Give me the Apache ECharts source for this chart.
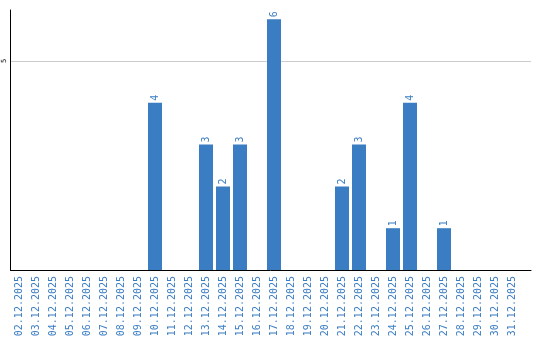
<!DOCTYPE html>
<html>
<head>
<meta charset="utf-8">
<script src="https://cdn.jsdelivr.net/npm/echarts@6/dist/echarts.min.js"></script>
<style>html,body{margin:0;padding:0;background:#fff}#c{width:540px;height:340px}</style>
</head>
<body>
<div id="c"></div>
<script>
const categories = ['02.12.2025','03.12.2025','04.12.2025','05.12.2025','06.12.2025','07.12.2025','08.12.2025','09.12.2025','10.12.2025','11.12.2025','12.12.2025','13.12.2025','14.12.2025','15.12.2025','16.12.2025','17.12.2025','18.12.2025','19.12.2025','20.12.2025','21.12.2025','22.12.2025','23.12.2025','24.12.2025','25.12.2025','26.12.2025','27.12.2025','28.12.2025','29.12.2025','30.12.2025','31.12.2025'];
const values = [0,0,0,0,0,0,0,0,4,0,0,3,2,3,0,6,0,0,0,2,3,0,1,4,0,1,0,0,0,0];
const yTicks = [5];

const blue = '#3b7dc2';
const yMax = 6.22;
const chart = echarts.init(document.getElementById('c'), null, {renderer: 'canvas'});
chart.setOption({
  animation: false,
  grid: [
    {left: 10.5, right: 19.5, top: 10, bottom: 70, containLabel: false},
    {left: 10.5, right: 9, top: 10, bottom: 70, containLabel: false}
  ],
  xAxis: [{
    type: 'category',
    gridIndex: 0,
    data: categories,
    axisLine: {show: false},
    axisTick: {show: false},
    axisLabel: {rotate: 90, margin: 6, interval: 0, fontFamily: 'DejaVu Sans Mono', fontSize: 10, color: blue}
  }, {
    type: 'value',
    gridIndex: 1,
    min: 0, max: 1,
    axisLine: {show: true, onZero: false, lineStyle: {color: '#000', width: 1}},
    axisTick: {show: false},
    axisLabel: {show: false},
    splitLine: {show: false}
  }],
  yAxis: [{
    type: 'value',
    gridIndex: 0,
    min: 0, max: yMax, interval: yTicks[0],
    axisLine: {show: true, lineStyle: {color: '#000', width: 1}},
    axisTick: {show: false},
    axisLabel: {rotate: 90, margin: 3, fontFamily: 'DejaVu Sans Mono', fontSize: 7, color: '#000', showMinLabel: false, showMaxLabel: false,
      formatter: v => (yTicks.indexOf(v) >= 0 ? String(v) : '')},
    splitLine: {show: false}
  }, {
    type: 'value',
    gridIndex: 1,
    min: 0, max: yMax, interval: yTicks[0],
    axisLine: {show: false},
    axisTick: {show: false},
    axisLabel: {show: false},
    splitLine: {show: true, showMinLine: false, showMaxLine: false, lineStyle: {color: '#cccccc', width: 1}}
  }],
  series: [{
    type: 'bar',
    xAxisIndex: 0, yAxisIndex: 0,
    data: values,
    barWidth: 14,
    itemStyle: {color: blue},
    z: 3,
    label: {
      show: true, position: 'top', rotate: 90, align: 'left', verticalAlign: 'middle', distance: 2,
      fontFamily: 'DejaVu Sans Mono', fontSize: 10, color: blue,
      formatter: p => (p.value ? String(p.value) : '')
    }
  }]
});
</script>
</body>
</html>
